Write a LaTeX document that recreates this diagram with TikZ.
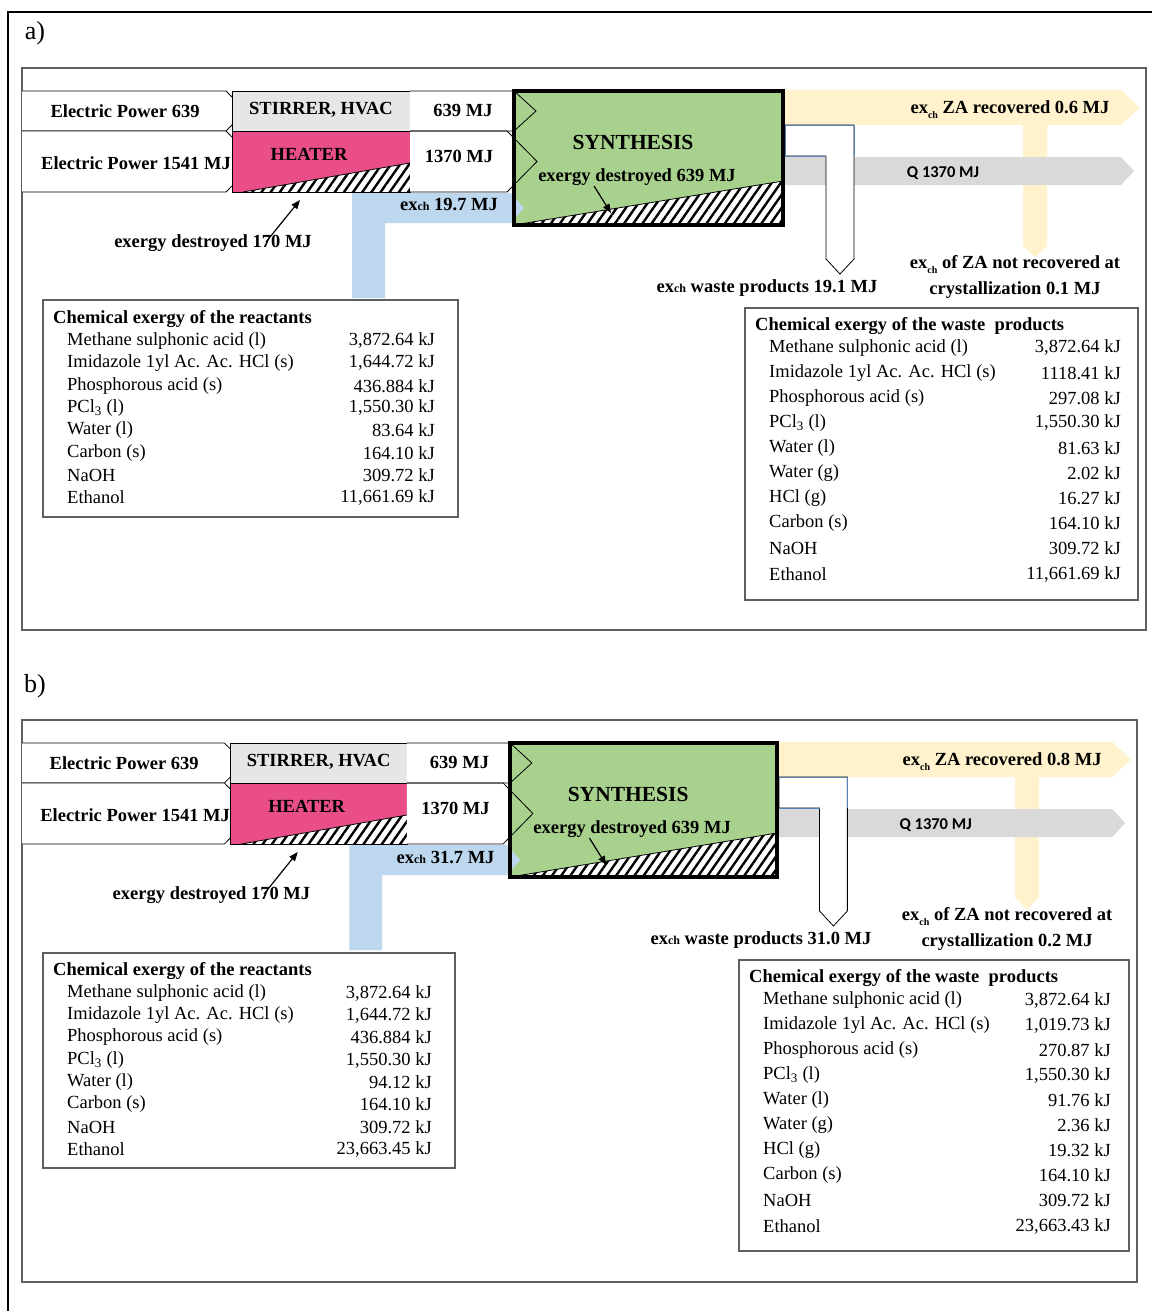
\documentclass[tikz,border=0pt]{standalone}
\usepackage{fontspec}
\setmainfont{Liberation Serif}
\newfontfamily\qfont{Carlito}
\usetikzlibrary{patterns.meta,arrows.meta}

\definecolor{heaterpink}{RGB}{234,78,136}
\definecolor{stirgray}{RGB}{231,230,230}
\definecolor{synthgreen}{RGB}{169,209,142}
\definecolor{flowblue}{RGB}{189,215,238}
\definecolor{flowyellow}{RGB}{255,242,204}
\definecolor{flowgray}{RGB}{217,217,217}
\definecolor{framegray}{RGB}{95,95,95}
\definecolor{boxblue}{RGB}{84,130,180}

\newcommand\exCh{ex{\fontsize{12}{12}\selectfont ch}}
\newcommand\exSub{ex\raisebox{-5pt}{\fontsize{10}{10}\selectfont ch}}

\tikzset{
  lbl/.style={font=\fontsize{18.5}{20}\selectfont\bfseries, inner sep=0pt},
  biglbl/.style={font=\fontsize{21.5}{23}\selectfont\bfseries, inner sep=0pt},
  qlbl/.style={font=\fontsize{16.5}{18}\selectfont\qfont\bfseries, inner sep=0pt},
  rowtxt/.style={font=\fontsize{18.5}{20}\selectfont, inner sep=0pt, anchor=west},
  rowval/.style={font=\fontsize{18.5}{20}\selectfont, inner sep=0pt, anchor=east},
  tabtitle/.style={font=\fontsize{18.5}{20}\selectfont\bfseries, inner sep=0pt, anchor=west},
  tabframe/.style={draw=framegray, line width=1.2, fill=white},
  outline/.style={draw=black, line width=0.8},
  hatch/.style={pattern={Lines[angle=55,distance=7.5pt,line width=2.4pt]}, pattern color=black},
  pointer/.style={line width=1.2, -{Triangle[length=9pt,width=7pt]}},
}

% one energy/exergy flow panel: #1 chemical exergy in, #2 ZA recovered,
% #3 waste products, #4 ZA lost at crystallization
\newcommand\flowpanel[4]{%
  % recovered product stream with branch to losses
  \fill[flowyellow] (783,90) -- (1121,90) -- (1140,107.5) -- (1121,125) -- (1047,125)
    -- (1047,246) -- (1035,257) -- (1023,246) -- (1023,125) -- (783,125) -- cycle;
  % heat stream
  \fill[flowgray] (783,157) -- (1121,157) -- (1134,171) -- (1121,185) -- (783,185) -- cycle;
  % waste products stream
  \filldraw[fill=white, outline] (785,125) -- (854,125) -- (854,259) -- (840,274)
    -- (826,259) -- (826,156) -- (785,156) -- cycle;
  \draw[boxblue, line width=0.9] (826,156) -- (785,156) -- (785,125) -- (854,125) -- (854,156);
  % electric power inputs
  \filldraw[fill=white, outline] (22,91) -- (226,91) -- (246,111) -- (226,131) -- (22,131);
  \filldraw[fill=white, outline] (22,131) -- (226,131) -- (256,161.5) -- (226,192) -- (22,192);
  % stirrer / heater blocks
  \filldraw[fill=stirgray, outline] (232,91) rectangle (410,131);
  \filldraw[fill=heaterpink, outline] (232,131) rectangle (410,192);
  \fill[white] (243,192) -- (410,163) -- (410,192) -- cycle;
  \fill[hatch] (243,192) -- (410,163) -- (410,192) -- cycle;
  \draw[outline] (243,192) -- (410,163);
  \draw[outline] (232,131) rectangle (410,192);
  % outputs of stirrer and heater
  \fill[white] (410,91) -- (514,91) -- (536,111) -- (514,131) -- (410,131) -- cycle;
  \fill[white] (410,131) -- (507,131) -- (537,161.5) -- (507,192) -- (410,192) -- cycle;
  % synthesis block
  \fill[synthgreen] (514,91) rectangle (783,225);
  \fill[white] (514,225) -- (783,181) -- (783,225) -- cycle;
  \fill[hatch] (514,225) -- (783,181) -- (783,225) -- cycle;
  \draw[outline] (514,225) -- (783,181);
  \draw[outline] (410,91) -- (514,91) -- (536,111) -- (514,131) -- (410,131);
  \draw[outline] (410,131) -- (507,131) -- (537,161.5) -- (507,192) -- (410,192);
  % chemical exergy of the reactants
  \fill[flowblue] (352,298) -- (352,193) -- (511,193) -- (524,208) -- (511,223)
    -- (385,223) -- (385,298) -- cycle;
  \draw[line width=3.2] (514,91) rectangle (783,225);
  % labels
  \node[lbl] (ep1) at (125,111) {Electric Power 639};
  \node[lbl] (ep2) at (136,163) {Electric Power 1541 MJ};
  \node[lbl] (stir) at (321,110) {STIRRER, HVAC};
  \node[lbl] (heat) at (309,154) {HEATER};
  \node[lbl] (out639) at (463,110) {639 MJ};
  \node[lbl] (out1370) at (459,156) {1370 MJ};
  \node[biglbl] (synth) at (633,142) {SYNTHESIS};
  \node[lbl] (dsyn) at (637,177) {exergy destroyed 639 MJ};
  \node[lbl] (exin) at (449,205) {\exCh{} #1 MJ};
  \node[lbl] (dheat) at (213,243) {exergy destroyed 170 MJ};
  \node[lbl] (zarec) at (1010,110) {\exSub{} ZA recovered #2 MJ};
  \node[qlbl] (heatq) at (943,173) {Q 1370 MJ};
  \node[lbl] (waste) at (767,288) {\exCh{} waste products #3 MJ};
  \node[lbl] (zalost) at (1015,265) {\exSub{} of ZA not recovered at};
  \node[lbl] (zalost2) at (1015,290) {crystallization #4 MJ};
  % pointers to the destroyed exergy
  \coordinate (dheattail) at (266,242);
  \coordinate (dheathead) at (300,200);
  \draw[pointer] (dheattail) -- (dheathead);
  \coordinate (dsyntail) at (594,186);
  \coordinate (dsynhead) at (611,213);
  \draw[pointer] (dsyntail) -- (dsynhead);
}

\begin{document}
\begin{tikzpicture}[x=1pt,y=-1pt]
  \useasboundingbox (0,0) rectangle (1152,1311);
  \fill[white] (0,0) rectangle (1152,1311);
  \draw[line width=2] (8,1311) -- (8,12) -- (1152,12);

  \node[font=\fontsize{26}{28}\selectfont, inner sep=0pt] (labA) at (35,33) {a)};
  \node[font=\fontsize{26}{28}\selectfont, inner sep=0pt] (labB) at (35,686) {b)};

  % ---------- panel a ----------
  \draw[framegray, line width=1.2] (22,68) rectangle (1146,630);
  \begin{scope}[name prefix=a-]
    \flowpanel{19.7}{0.6}{19.1}{0.1}
  \end{scope}

  % reactants, panel a
  \draw[tabframe] (43,300) rectangle (458,517);
  \node[tabtitle] (ra-t) at (53,319) {Chemical exergy of the reactants};
  \node[rowtxt] (ra-1) at (67,341) {Methane sulphonic acid (l)};   \node[rowval] (ra-1v) at (435,341) {3,872.64 kJ};
  \node[rowtxt] (ra-2) at (67,363) {Imidazole 1yl Ac. Ac. HCl (s)}; \node[rowval] (ra-2v) at (435,363) {1,644.72 kJ};
  \node[rowtxt] (ra-3) at (67,386) {Phosphorous acid (s)};          \node[rowval] (ra-3v) at (435,386) {436.884 kJ};
  \node[rowtxt] (ra-4) at (67,408) {PCl\textsubscript{3} (l)};      \node[rowval] (ra-4v) at (435,408) {1,550.30 kJ};
  \node[rowtxt] (ra-5) at (67,430) {Water (l)};                     \node[rowval] (ra-5v) at (435,430) {83.64 kJ};
  \node[rowtxt] (ra-6) at (67,453) {Carbon (s)};                    \node[rowval] (ra-6v) at (435,453) {164.10 kJ};
  \node[rowtxt] (ra-7) at (67,475) {NaOH};                          \node[rowval] (ra-7v) at (435,475) {309.72 kJ};
  \node[rowtxt] (ra-8) at (67,497) {Ethanol};                       \node[rowval] (ra-8v) at (435,497) {11,661.69 kJ};

  % waste products, panel a
  \draw[tabframe] (745,308) rectangle (1138,600);
  \node[tabtitle] (wa-t) at (755,326) {Chemical exergy of the waste\ \ products};
  \node[rowtxt] (wa-1) at (769,348) {Methane sulphonic acid (l)};    \node[rowval] (wa-1v) at (1121,348) {3,872.64 kJ};
  \node[rowtxt] (wa-2) at (769,373) {Imidazole 1yl Ac. Ac. HCl (s)}; \node[rowval] (wa-2v) at (1121,373) {1118.41 kJ};
  \node[rowtxt] (wa-3) at (769,398) {Phosphorous acid (s)};          \node[rowval] (wa-3v) at (1121,398) {297.08 kJ};
  \node[rowtxt] (wa-4) at (769,423) {PCl\textsubscript{3} (l)};      \node[rowval] (wa-4v) at (1121,423) {1,550.30 kJ};
  \node[rowtxt] (wa-5) at (769,448) {Water (l)};                     \node[rowval] (wa-5v) at (1121,448) {81.63 kJ};
  \node[rowtxt] (wa-6) at (769,473) {Water (g)};                     \node[rowval] (wa-6v) at (1121,473) {2.02 kJ};
  \node[rowtxt] (wa-7) at (769,498) {HCl (g)};                       \node[rowval] (wa-7v) at (1121,498) {16.27 kJ};
  \node[rowtxt] (wa-8) at (769,523) {Carbon (s)};                    \node[rowval] (wa-8v) at (1121,523) {164.10 kJ};
  \node[rowtxt] (wa-9) at (769,548) {NaOH};                          \node[rowval] (wa-9v) at (1121,548) {309.72 kJ};
  \node[rowtxt] (wa-10) at (769,574) {Ethanol};                      \node[rowval] (wa-10v) at (1121,574) {11,661.69 kJ};

  % ---------- panel b ----------
  \draw[framegray, line width=1.2] (22,720) rectangle (1137,1282);
  \begin{scope}[name prefix=b-, shift={(22,652)}, xscale=0.992, shift={(-22,0)}]
    \flowpanel{31.7}{0.8}{31.0}{0.2}
  \end{scope}

  % reactants, panel b
  \draw[tabframe] (43,953) rectangle (455,1168);
  \node[tabtitle] (rb-t) at (53,971) {Chemical exergy of the reactants};
  \node[rowtxt] (rb-1) at (67,993) {Methane sulphonic acid (l)};    \node[rowval] (rb-1v) at (432,993) {3,872.64 kJ};
  \node[rowtxt] (rb-2) at (67,1015) {Imidazole 1yl Ac. Ac. HCl (s)}; \node[rowval] (rb-2v) at (432,1015) {1,644.72 kJ};
  \node[rowtxt] (rb-3) at (67,1037) {Phosphorous acid (s)};          \node[rowval] (rb-3v) at (432,1037) {436.884 kJ};
  \node[rowtxt] (rb-4) at (67,1060) {PCl\textsubscript{3} (l)};      \node[rowval] (rb-4v) at (432,1060) {1,550.30 kJ};
  \node[rowtxt] (rb-5) at (67,1082) {Water (l)};                     \node[rowval] (rb-5v) at (432,1082) {94.12 kJ};
  \node[rowtxt] (rb-6) at (67,1104) {Carbon (s)};                    \node[rowval] (rb-6v) at (432,1104) {164.10 kJ};
  \node[rowtxt] (rb-7) at (67,1127) {NaOH};                          \node[rowval] (rb-7v) at (432,1127) {309.72 kJ};
  \node[rowtxt] (rb-8) at (67,1149) {Ethanol};                       \node[rowval] (rb-8v) at (432,1149) {23,663.45 kJ};

  % waste products, panel b
  \draw[tabframe] (739,960) rectangle (1129,1251);
  \node[tabtitle] (wb-t) at (749,978) {Chemical exergy of the waste\ \ products};
  \node[rowtxt] (wb-1) at (763,1000) {Methane sulphonic acid (l)};    \node[rowval] (wb-1v) at (1111,1000) {3,872.64 kJ};
  \node[rowtxt] (wb-2) at (763,1025) {Imidazole 1yl Ac. Ac. HCl (s)}; \node[rowval] (wb-2v) at (1111,1025) {1,019.73 kJ};
  \node[rowtxt] (wb-3) at (763,1050) {Phosphorous acid (s)};          \node[rowval] (wb-3v) at (1111,1050) {270.87 kJ};
  \node[rowtxt] (wb-4) at (763,1075) {PCl\textsubscript{3} (l)};      \node[rowval] (wb-4v) at (1111,1075) {1,550.30 kJ};
  \node[rowtxt] (wb-5) at (763,1100) {Water (l)};                     \node[rowval] (wb-5v) at (1111,1100) {91.76 kJ};
  \node[rowtxt] (wb-6) at (763,1125) {Water (g)};                     \node[rowval] (wb-6v) at (1111,1125) {2.36 kJ};
  \node[rowtxt] (wb-7) at (763,1150) {HCl (g)};                       \node[rowval] (wb-7v) at (1111,1150) {19.32 kJ};
  \node[rowtxt] (wb-8) at (763,1175) {Carbon (s)};                    \node[rowval] (wb-8v) at (1111,1175) {164.10 kJ};
  \node[rowtxt] (wb-9) at (763,1200) {NaOH};                          \node[rowval] (wb-9v) at (1111,1200) {309.72 kJ};
  \node[rowtxt] (wb-10) at (763,1226) {Ethanol};                      \node[rowval] (wb-10v) at (1111,1226) {23,663.43 kJ};
\end{tikzpicture}
\end{document}
